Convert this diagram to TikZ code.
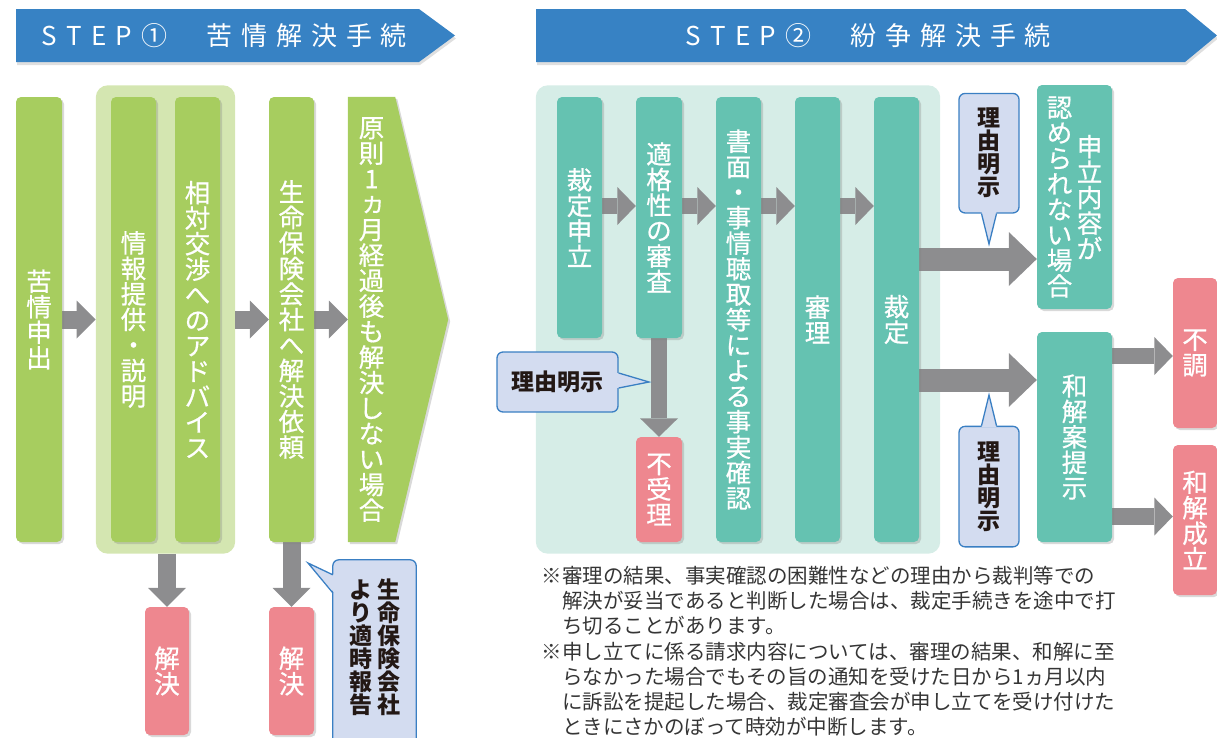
\documentclass[tikz,border=0pt]{standalone}
\usepackage{fontspec}
\setmainfont{Noto Sans CJK JP}
\newfontfamily\boxfont[FakeBold=0.6]{Noto Sans CJK JP}
\usetikzlibrary{arrows.meta,positioning,fit,shadows,calc}

\pgfdeclarelayer{back}
\pgfdeclarelayer{mid}
\pgfsetlayers{back,mid,main}

\definecolor{hdblue}{HTML}{3782C4}
\definecolor{kgreen}{HTML}{A7CD5F}
\definecolor{lgreen}{HTML}{D4E6B1}
\definecolor{tealbox}{HTML}{65C2B1}
\definecolor{tealbg}{HTML}{D6EDE7}
\definecolor{pinkbox}{HTML}{EE878F}
\definecolor{arrgray}{HTML}{8D8D8F}
\definecolor{callfill}{HTML}{D3DCF0}
\definecolor{callline}{HTML}{3A7FC3}
\definecolor{calltext}{HTML}{231815}
\definecolor{notetext}{HTML}{353535}

\XeTeXlinebreaklocale "ja"
\XeTeXlinebreakskip=0pt plus 2pt

\makeatletter
% vertical text, one character per line
\newcommand\tate[1]{$\vcenter{\baselineskip=1em\lineskiplimit=-\maxdimen\lineskip=0pt
  \@tfor\tatechar:=#1\do{\hbox to 1em{\hss\tatechar\hss}}}$}
% letter-spaced header text
\newcommand\spread[2]{\@tfor\spreadchar:=#2\do{\spreadchar\kern#1}\kern-#1}
\makeatother
% small ka, set upright in a column
\newcommand\tka{\raisebox{.08em}[.7em][0pt]{\kern.12em ヵ}}

% pointer of a callout: base point, tip, base point, inward shift
\newcommand\callptr[4]{%
  \fill[callfill] ($(#1)+(#4)$) -- (#2) -- ($(#3)+(#4)$) -- cycle;
  \draw[callborder] (#1) -- (#2) -- (#3);}

\tikzset{
  boxshadow/.style={drop shadow={shadow xshift=2pt,shadow yshift=-2pt,opacity=.3}},
  hdshadow/.style={drop shadow={shadow xshift=1pt,shadow yshift=-3pt,opacity=.25}},
  boxtext/.style={text=white,font=\boxfont\fontsize{25.5}{25.5}\selectfont},
  gbox/.style={fill=kgreen,rounded corners=5pt,inner sep=0pt,
    minimum width=45pt,boxshadow,boxtext},
  tbox/.style={gbox,fill=tealbox},
  pbox/.style={gbox,fill=pinkbox},
  grpbox/.style={fill=#1,rounded corners=12pt,inner xsep=15pt,inner ysep=11.5pt},
  callfont/.style={text=calltext,font=\fontsize{23}{23}\selectfont\bfseries},
  callbox/.style={fill=callfill,draw=callline,line width=1.3pt,rounded corners=6pt,
    inner sep=0pt,callfont},
  callborder/.style={draw=callline,line width=1.3pt,line join=miter},
  arrowM/.style={arrgray,line width=18pt,-{Triangle[length=19pt,width=38pt,line width=0pt]}},
  arrowS/.style={arrgray,line width=16.5pt,-{Triangle[length=18.5pt,width=38pt,line width=0pt]}},
  arrowL/.style={arrgray,line width=23pt,-{Triangle[length=28pt,width=54pt,line width=0pt]}},
  hdtext/.style={text=white,font=\fontsize{26}{26}\selectfont,inner sep=0pt},
  note/.style={text=notetext,font=\fontsize{20.5}{25.2}\selectfont,inner sep=0pt},
}

\begin{document}
\begin{tikzpicture}[x=1pt,y=-1pt]
  \useasboundingbox (0,0) rectangle (1217,737);
  \clip (0,0) rectangle (1217,737);

  % Headers
  \fill[hdblue,hdshadow] (16,9) -- (419,9) -- (455,35.5) -- (419,62) -- (16,62) -- cycle;
  \node[hdtext] (step1) at (224,35.5) {\spread{9.5pt}{STEP①}\kern39pt\spread{8.8pt}{苦情解決手続}};
  \fill[hdblue,hdshadow] (536,9) -- (1185,9) -- (1217,35.5) -- (1185,62) -- (536,62) -- cycle;
  \node[hdtext] (step2) at (868,35.5) {\spread{9.5pt}{STEP②}\kern39pt\spread{8.8pt}{紛争解決手続}};

  % Step 1
  \node[gbox,minimum width=46pt,minimum height=445pt] (kujo) at (39,319.5) {\tate{苦情申出}};
  \node[gbox,minimum height=445pt] (joho) at (133.5,319.5) {\tate{情報提供・説明}};
  \node[gbox,minimum height=445pt] (sotai) at (197.5,319.5) {\tate{相対交渉へのアドバイス}};
  \node[gbox,minimum height=445pt] (seimei) at (291.5,319.5) {\tate{生命保険会社へ解決依頼}};
  \node[inner sep=0pt,minimum width=47pt,minimum height=445pt,boxtext] (gensoku) at (371.5,319.5)
    {\tate{原則1\tka 月経過後も解決しない場合}};
  \node[pbox,minimum width=44pt,minimum height=128pt] (kaiketsuA) at (167,671) {\tate{解決}};
  \node[pbox,minimum height=128pt] (kaiketsuB) at (291.5,671) {\tate{解決}};
  \node[inner sep=0pt,minimum width=83pt,minimum height=175pt,callfont] (hokoku) at (374.5,647.5)
    {\tate{より適時報告}\kern5pt\tate{生命保険会社}};

  % Step 2
  \node[tbox,minimum height=241pt] (moushitate) at (579.5,217.5) {\tate{裁定申立}};
  \node[tbox,minimum width=46pt,minimum height=241pt] (tekikaku) at (659,217.5) {\tate{適格性の審査}};
  \node[tbox,minimum height=445pt] (shomen) at (738.5,319.5) {\tate{書面・事情聴取等による事実確認}};
  \node[tbox,minimum height=445pt] (shinri) at (817.5,319.5) {\tate{審理}};
  \node[tbox,minimum height=445pt] (saitei) at (896.5,319.5) {\tate{裁定}};
  \node[pbox,minimum width=46pt,minimum height=105pt] (fujuri) at (659,489.5) {\tate{不受理}};
  \node[tbox,minimum width=75pt,minimum height=224pt] (mitome) at (1074.5,197)
    {\tate{認められない場合}\kern4.5pt\tate{申立内容が}};
  \node[tbox,minimum width=75pt,minimum height=210pt] (wakaian) at (1074.5,437) {\tate{和解案提示}};
  \node[pbox,minimum width=44pt,minimum height=150pt] (fucho) at (1195,353) {\tate{不調}};
  \node[pbox,minimum width=44pt,minimum height=150pt] (seiritsu) at (1195,520) {\tate{和解成立}};

  % Callouts
  \node[callbox,minimum width=121pt,minimum height=60pt] (riyuA) at (557.5,382) {理由明示};
  \node[callbox,minimum width=60pt,minimum height=119.5pt] (riyuB) at (989,153.2) {\tate{理由明示}};
  \node[callbox,minimum width=60pt,minimum height=120.5pt] (riyuC) at (989,486.6) {\tate{理由明示}};

  \coordinate (ayA) at (0,206);
  \coordinate (ayB) at (0,259);
  \coordinate (ayC) at (0,380);
  \coordinate (ayD) at (0,356);
  \coordinate (ayE) at (0,516.5);

  \begin{pgfonlayer}{back}
    \node[grpbox=lgreen,fit=(joho)(sotai)] (soudan) {};
    \node[grpbox=tealbg,fit=(moushitate)(saitei),inner xsep=21pt] (saiteibg) {};
    \fill[kgreen,boxshadow] (gensoku.north west) -- (gensoku.north east)
      -- ($(gensoku.east)+(53,0)$) -- (gensoku.south east) -- (gensoku.south west) -- cycle;
  \end{pgfonlayer}

  \begin{pgfonlayer}{mid}
    % Arrows
    \foreach \a/\b in {kujo/soudan,soudan/seimei,seimei/gensoku}
      \draw[arrowM] (\a.east |- kujo.east) -- (\b.west |- kujo.east);
    \draw[arrowM] (kaiketsuA.north |- soudan.south) -- (kaiketsuA.north);
    \draw[arrowM] (seimei.south) -- (kaiketsuB.north);
    \foreach \a/\b in {moushitate/tekikaku,tekikaku/shomen,shomen/shinri,shinri/saitei}
      \draw[arrowS] (\a.east |- ayA) -- (\b.west |- ayA);
    \draw[arrowS] (tekikaku.south) -- (fujuri.north);
    \draw[arrowL] (saitei.east |- ayB) -- (mitome.west |- ayB);
    \draw[arrowL] (saitei.east |- ayC) -- (wakaian.west |- ayC);
    \draw[arrowS] (wakaian.east |- ayD) -- (fucho.west |- ayD);
    \draw[arrowS] (wakaian.east |- ayE) -- (seiritsu.west |- ayE);
    % report callout box, running off the page
    \filldraw[callbox] ($(hokoku.south west)+(0,20)$) |- (hokoku.north east)
      -- ($(hokoku.south east)+(0,20)$);
  \end{pgfonlayer}

  % Callout pointers
  \coordinate (hokokutip) at (308,563);
  \coordinate (hokokua) at ($(hokoku.north west)+(0,15)$);
  \coordinate (hokokub) at ($(hokoku.north west)+(0,33)$);
  \callptr{hokokua}{hokokutip}{hokokub}{1.5,0}
  \coordinate (riyuAtip) at (649,382);
  \coordinate (riyuAa) at ($(riyuA.east)+(0,-9)$);
  \coordinate (riyuAb) at ($(riyuA.east)+(0,6)$);
  \callptr{riyuAa}{riyuAtip}{riyuAb}{-1.5,0}
  \coordinate (riyuBtip) at (989,244);
  \coordinate (riyuBa) at ($(riyuB.south)+(-7.5,0)$);
  \coordinate (riyuBb) at ($(riyuB.south)+(7.5,0)$);
  \callptr{riyuBa}{riyuBtip}{riyuBb}{0,-1.5}
  \coordinate (riyuCtip) at (989,395);
  \coordinate (riyuCa) at ($(riyuC.north)+(-7.5,0)$);
  \coordinate (riyuCb) at ($(riyuC.north)+(7.5,0)$);
  \callptr{riyuCa}{riyuCtip}{riyuCb}{0,1.5}

  % Notes
  \node[note,anchor=base west] (notes) at (541.5,583.5) {\vtop{%
    \baselineskip=25.2pt\lineskiplimit=-\maxdimen
    \hbox to 569pt{※審理の結果、事実確認の困難性などの理由から裁判等での}
    \hbox to 569pt{\kern20.5pt 解決が妥当であると判断した場合は、裁定手続きを途中で打}
    \hbox{\kern20.5pt ち切ることがあります。}
    \hbox to 569pt{※申し立てに係る請求内容については、審理の結果、和解に至}
    \hbox to 569pt{\kern20.5pt らなかった場合でもその旨の通知を受けた日から1ヵ月以内}
    \hbox to 569pt{\kern20.5pt に訴訟を提起した場合、裁定審査会が申し立てを受け付けた}
    \hbox{\kern20.5pt ときにさかのぼって時効が中断します。}}};
\end{tikzpicture}
\end{document}
